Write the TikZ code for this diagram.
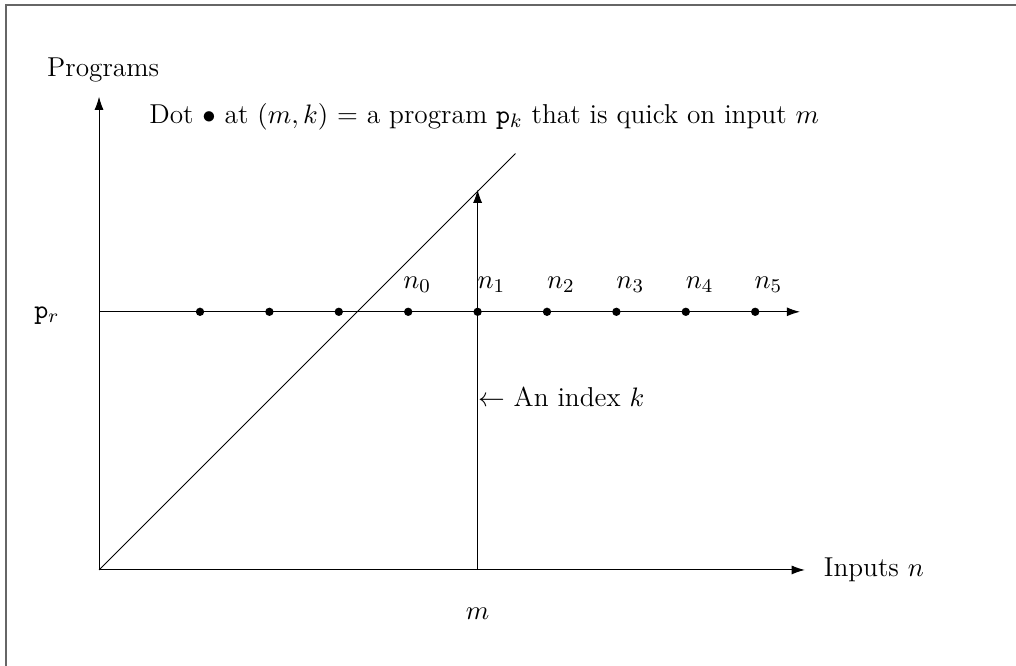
\documentclass[tikz,border=0pt]{standalone}
\usepackage{amsmath}
\usepackage{amssymb}
\usetikzlibrary{arrows.meta,positioning}

\begin{document}
\begin{tikzpicture}[every node/.style={font=\fontsize{11.2}{13.8}\selectfont}]
        \tikzstyle{axis} = [-{Latex[length=1.9mm,width=1.3mm]}]
        \tikzstyle{dotpt} = [circle, fill=black, inner sep=0pt, minimum size=1.2mm]

        \useasboundingbox (-1.427,-1.383) rectangle (13.213,8.213);
        \draw [gray!80!black, line width=0.8pt] (-1.34,-3) rectangle (15,8.141);

        \coordinate (O) at (0,0);
        \coordinate (xend) at (10.17,0);
        \coordinate (yend) at (0,6.82);
        \coordinate (diag) at (6,6);
        \coordinate (rstart) at (0,3.72);
        \coordinate (rend) at (10.1,3.72);
        \coordinate (mbase) at (5.455,0);
        \coordinate (mtop) at (5.455,5.48);

        \node (progs) at (0.06,7.2) {Programs};
        \node (note) at (5.55,6.53) {Dot $\bullet$ at $(m,k)$ = a program $\mathtt{p}_k$ that is quick on input $m$};
        \node (pr) at (-0.75,3.66) {$\mathtt{p}_r$};
        \node (inputs) [right=0.15cm of xend] {Inputs $n$};
        \node (mlab) at (5.455,-0.63) {$m$};
        \node (index) [anchor=west, inner sep=0pt] at (5.455,2.49) {$\leftarrow$ An index $k$};

        \foreach \i in {1,...,9}
            \node (d\i) [dotpt] at ({0.455+\i},3.72) {};
        \foreach \i/\n/\dx in {4/0/0.13,5/1/0.2,6/2/0.2,7/3/0.2,8/4/0.2,9/5/0.19}
            \node (lab\n) at ({0.455+\i+\dx},4.11) {$n_{\n}$};

        \draw [axis] (O) -- (xend);
        \draw [axis] (O) -- (yend);
        \draw [axis] (rstart) -- (rend);
        \draw (O) -- (diag);
        \draw [axis] (mbase) -- (mtop);
    \end{tikzpicture}
\end{document}
